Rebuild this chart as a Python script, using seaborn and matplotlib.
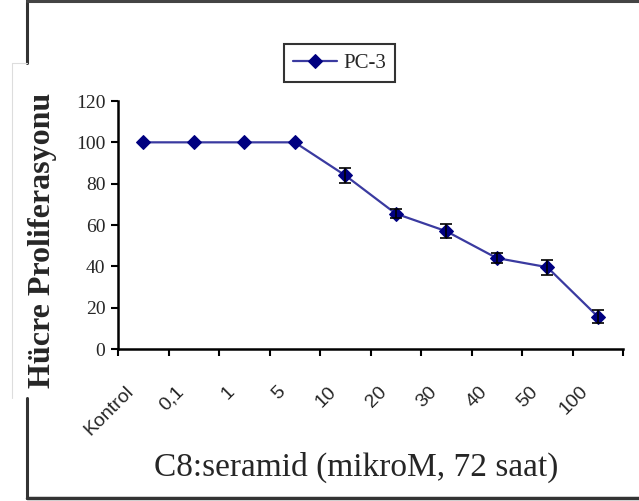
import numpy as np
import pandas as pd
import matplotlib
matplotlib.use("Agg")
import matplotlib.pyplot as plt
import matplotlib.transforms as mtransforms
from matplotlib.lines import Line2D
import seaborn as sns

# --- data ---
doses = ["Kontrol", "0,1", "1", "5", "10", "20", "30", "40", "50", "100"]
proliferation = [100, 100, 100, 100, 84, 65.5, 57, 44, 39.6, 15.7]
sd = [0, 0, 0, 0, 3.5, 2.3, 3.5, 2.5, 3.7, 3.1]
series_name = "PC-3"

y_ticks = [0, 20, 40, 60, 80, 100, 120]

df = pd.DataFrame({"doz": doses, "deger": proliferation, "sd": sd})
df["pos"] = np.arange(len(df))

sns.set_style("white")
plt.rcParams["font.family"] = ["Liberation Serif", "DejaVu Serif"]

W, H = 639, 501
fig = plt.figure(figsize=(6.39, 5.01), dpi=100)
ax = fig.add_axes([118 / W, 1 - 349 / H, (623 - 118) / W, (349 - 101) / H])

line_col = "#3a3aa0"
mark_col = "#000080"

sns.lineplot(data=df, x="pos", y="deger", ax=ax, color=line_col, linewidth=1.6,
             marker="D", markersize=7.5, markerfacecolor=mark_col,
             markeredgecolor=mark_col, label=series_name)

err = df[df["sd"] > 0]
ax.errorbar(err["pos"], err["deger"], yerr=err["sd"], fmt="none",
            ecolor="black", elinewidth=1.2, capsize=4, capthick=1.2, zorder=5)

ax.set_xlim(-0.5, len(doses) - 0.5)
ax.set_ylim(0, 120)
ax.set_yticks(y_ticks)
ax.set_yticklabels([str(v) for v in y_ticks], fontsize=14)

# category ticks sit between categories (Excel style)
ax.set_xticks(np.arange(len(doses) + 1) - 0.5)
ax.set_xticklabels([])
ax.tick_params(axis="x", length=5, width=1.5, direction="out",
               bottom=True, color="black")
ax.tick_params(axis="y", length=5, width=1.5, direction="out", left=True,
               color="black", pad=4)

# rotated category labels, ending down-left of each category centre
offset = mtransforms.ScaledTranslation(-12 / 100, -40 / 100, fig.dpi_scale_trans)
lbl_tr = ax.get_xaxis_transform() + offset
for i, d in enumerate(doses):
    ax.text(i, 0, d, transform=lbl_tr, rotation=45, ha="right", va="center",
            rotation_mode="anchor", fontsize=14,
            family=["Liberation Sans", "DejaVu Sans"])

for s in ["top", "right"]:
    ax.spines[s].set_visible(False)
for s in ["left", "bottom"]:
    ax.spines[s].set_color("black")
    ax.spines[s].set_linewidth(1.8)

ax.set_xlabel("C8:seramid (mikroM, 72 saat)", fontsize=24)
ax.set_ylabel("Hücre Proliferasyonu", fontsize=23, fontweight="bold")
ax.xaxis.set_label_coords((356 - 118) / (623 - 118), -(467 - 349) / (349 - 101))
ax.yaxis.set_label_coords(-(118 - 43) / (623 - 118), (349 - 240) / (349 - 101))
ax.xaxis.label.set_va("center")
ax.yaxis.label.set_va("center")

leg = ax.legend(loc="center", bbox_to_anchor=(339.5 / W, 1 - 63 / H),
                bbox_transform=fig.transFigure, frameon=True, fancybox=False,
                fontsize=15, handlelength=2.1, borderpad=0.45, handletextpad=0.3)
leg.get_frame().set_edgecolor("black")
leg.get_frame().set_linewidth(1.5)

# screenshot frame pieces
def fline(xs, ys, **kw):
    fig.add_artist(Line2D([x / W for x in xs], [1 - y / H for y in ys],
                          transform=fig.transFigure, **kw))

fline([27, 27], [0, 63], color="#333333", lw=2.2)
fline([27, 27], [398, 498], color="#333333", lw=2.2)
fline([27, 639], [1, 1], color="#444444", lw=2.2)
fline([27, 639], [498, 498], color="#333333", lw=2.5)
fline([12, 12], [63, 398], color="#dddddd", lw=0.8)
fline([12, 27], [63, 63], color="#dddddd", lw=0.8)

fig.savefig("out.png", dpi=100)
